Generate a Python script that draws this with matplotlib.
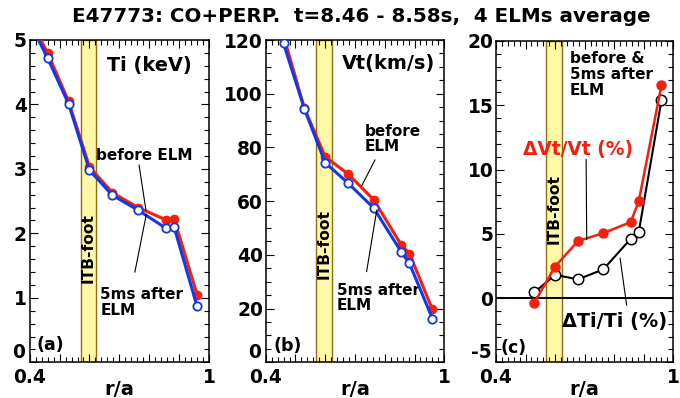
import matplotlib
matplotlib.use("Agg")
import matplotlib.pyplot as plt
from matplotlib.ticker import MultipleLocator, FuncFormatter
from matplotlib.transforms import blended_transform_factory, offset_copy

plt.rcParams['font.family'] = ['DejaVu Sans']
plt.rcParams['font.weight'] = 'bold'

# ---- data ----
r_a = [0.38, 0.46, 0.53, 0.60, 0.677, 0.763, 0.856, 0.883, 0.96]
ti_before = [5.50, 4.80, 4.05, 3.03, 2.63, 2.40, 2.21, 2.23, 1.05]
ti_after = [5.45, 4.72, 4.01, 2.98, 2.59, 2.36, 2.08, 2.10, 0.87]
vt_before = [146.0, 121.5, 94.6, 76.5, 70.1, 60.5, 43.6, 40.5, 19.7]
vt_after = [145.0, 118.7, 94.3, 74.3, 66.7, 57.4, 41.0, 36.8, 16.3]
r_a_c = [0.53, 0.60, 0.677, 0.763, 0.856, 0.883, 0.96]
dvt_pct = [-0.37, 2.45, 4.43, 5.05, 5.91, 7.52, 16.56]
dti_pct = [0.44, 1.81, 1.45, 2.23, 4.61, 5.13, 15.39]
itb_foot = (0.570, 0.622)

RED = '#F2200E'
BLUE = '#1438E6'

W, H = 680, 398
fig = plt.figure(figsize=(W / 100, H / 100), dpi=100)

def px_axes(left, right, top, bottom):
    return fig.add_axes([left / W, 1 - bottom / H, (right - left) / W, (bottom - top) / H])

axa = px_axes(29.7, 209.0, 40.0, 362.3)
axb = px_axes(265.7, 444.3, 40.0, 362.3)
axc = px_axes(496.0, 673.3, 41.0, 362.3)

def style(ax, ylim, ymaj, ymin):
    ax.set_xlim(0.4, 1.0)
    ax.set_ylim(*ylim)
    lo = ylim[0]
    ax.xaxis.set_major_locator(MultipleLocator(0.1))
    ax.xaxis.set_minor_locator(MultipleLocator(0.02))
    ax.yaxis.set_major_locator(MultipleLocator(ymaj))
    ax.yaxis.set_minor_locator(MultipleLocator(ymin))
    ax.xaxis.set_major_formatter(FuncFormatter(
        lambda v, p: '0.4' if abs(v - 0.4) < 1e-6 else ('1' if abs(v - 1.0) < 1e-6 else '')))
    ax.yaxis.set_major_formatter(FuncFormatter(
        lambda v, p: '' if abs(v - lo) < 1e-6 else '%g' % v))
    ax.tick_params(which='both', direction='in', top=True, right=True, width=0.8)
    ax.tick_params(axis='y', which='major', length=6, labelsize=13.4, pad=2)
    ax.tick_params(axis='x', which='major', length=6, labelsize=13.4, pad=4)
    ax.tick_params(which='minor', length=3.5)
    for s in ax.spines.values():
        s.set_linewidth(1.1)
    ax.set_xlabel('r/a', fontsize=14, fontweight='bold', labelpad=-5)
    ax.axvspan(*itb_foot, facecolor='#FFF8A8', edgecolor='#9A6A10', lw=1.0, zorder=0.5)
    # lowest y label sits on the axis line (baseline at bottom)
    tr = offset_copy(blended_transform_factory(ax.transAxes, ax.transData), fig=fig, x=-3.5, y=0, units='points')
    ax.text(0, lo, '%g' % lo, transform=tr, ha='right', va='bottom', fontsize=13.4, fontweight='bold')

style(axa, (0, 5), 1, 0.2)
style(axb, (0, 120), 20, 5)
style(axc, (-5, 20), 5, 1)

band_mid = sum(itb_foot) / 2
txt_kw = dict(fontweight='bold')

# ---- panel (a) ----
axa.plot(r_a, ti_before, '-o', color=RED, lw=2.2, ms=6, mfc=RED, mec=RED, zorder=3)
axa.plot(r_a, ti_after, '-o', color=BLUE, lw=2.2, ms=6, mfc='white', mec=BLUE, mew=1.3, zorder=4)
axa.text(band_mid, 1.77, 'ITB-foot', rotation=90, ha='center', va='center', fontsize=11.2, **txt_kw)
axa.text(0.658, 4.61, 'Ti (keV)', ha='left', va='center', fontsize=13.9, **txt_kw)
axa.text(0.622, 3.21, 'before ELM', ha='left', va='center', fontsize=11, **txt_kw)
axa.text(0.636, 0.93, '5ms after\nELM', ha='left', va='center', fontsize=11, linespacing=1.05, **txt_kw)
axa.plot([0.766, 0.789], [3.06, 2.36], color='k', lw=0.8, zorder=5)
axa.plot([0.79, 0.752], [2.29, 1.40], color='k', lw=0.8, zorder=5)
axa.text(0.423, 0.27, '(a)', ha='left', va='center', fontsize=12.5, **txt_kw)

# ---- panel (b) ----
axb.plot(r_a, vt_before, '-o', color=RED, lw=2.2, ms=6, mfc=RED, mec=RED, zorder=3)
axb.plot(r_a, vt_after, '-o', color=BLUE, lw=2.2, ms=6, mfc='white', mec=BLUE, mew=1.3, zorder=4)
axb.text(band_mid, 44, 'ITB-foot', rotation=90, ha='center', va='center', fontsize=11.2, **txt_kw)
axb.text(0.655, 111.2, 'Vt(km/s)', ha='left', va='center', fontsize=13.9, **txt_kw)
axb.text(0.734, 83.1, 'before\nELM', ha='left', va='center', fontsize=11, linespacing=1.05, **txt_kw)
axb.text(0.639, 24.0, '5ms after\nELM', ha='left', va='center', fontsize=11, linespacing=1.05, **txt_kw)
axb.plot([0.767, 0.722], [75.3, 65.6], color='k', lw=0.8, zorder=5)
axb.plot([0.773, 0.739], [56.6, 33.8], color='k', lw=0.8, zorder=5)
axb.text(0.426, 6.0, '(b)', ha='left', va='center', fontsize=12.5, **txt_kw)

# ---- panel (c) ----
axc.axhline(0, color='k', lw=1.4, zorder=2)
axc.plot(r_a_c, dti_pct, '-o', color='k', lw=1.5, ms=7.5, mfc='white', mec='k', mew=1.1, zorder=3)
axc.plot(r_a_c, dvt_pct, '-o', color=RED, lw=1.8, ms=6.5, mfc=RED, mec=RED, zorder=4)
axc.text(band_mid, 6.95, 'ITB-foot', rotation=90, ha='center', va='center', fontsize=11.2, **txt_kw)
axc.text(0.650, 17.4, 'before &\n5ms after\nELM', ha='left', va='center', fontsize=11, linespacing=1.05, **txt_kw)
axc.text(0.490, 11.56, '\u0394Vt/Vt (%)', ha='left', va='center', fontsize=13.4, color=RED, **txt_kw)
axc.text(0.622, -1.85, '\u0394Ti/Ti (%)', ha='left', va='center', fontsize=13.9, color='k', **txt_kw)
axc.plot([0.705, 0.707], [10.78, 4.55], color='k', lw=0.8, zorder=5)
axc.plot([0.82, 0.842], [3.1, -0.55], color='k', lw=0.8, zorder=5)
axc.text(0.414, -3.9, '(c)', ha='left', va='center', fontsize=12.5, **txt_kw)

fig.text(0.532, 0.958, 'E47773: CO+PERP.  t=8.46 - 8.58s,  4 ELMs average',
         ha='center', va='center', fontsize=14.3, fontweight='bold')

fig.savefig('out.png', dpi=100)
